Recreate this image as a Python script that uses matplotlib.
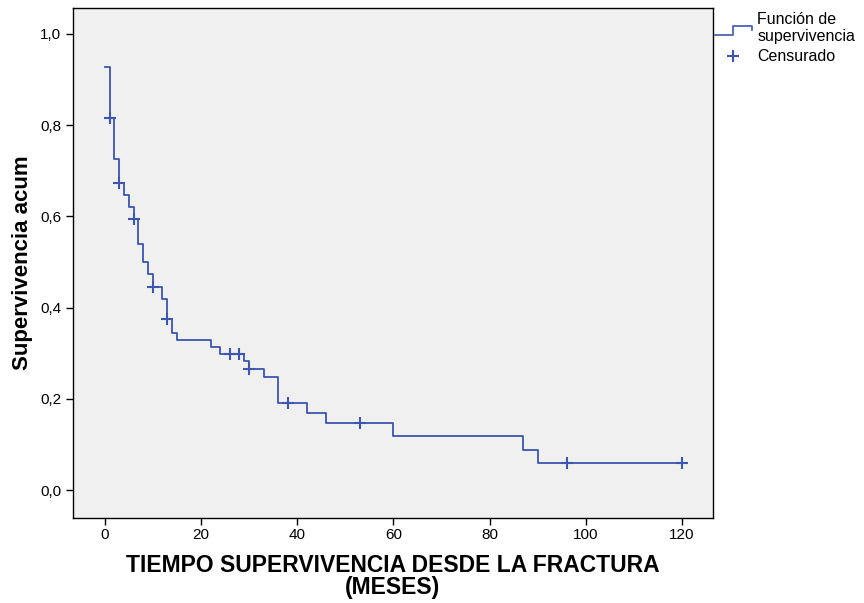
import numpy as np
import matplotlib
matplotlib.use("Agg")
import matplotlib.pyplot as plt
from matplotlib.lines import Line2D
from matplotlib.legend_handler import HandlerLine2D

plt.rcParams['font.family'] = ['Liberation Sans', 'DejaVu Sans']

# Curva de Kaplan-Meier (tiempos en meses, supervivencia acumulada)
tiempos = [0, 1, 2, 3, 4, 5, 6, 7, 8, 9, 10, 12, 13, 14, 15, 22, 24, 29, 30,
           33, 36, 42, 46, 60, 87, 90, 120]
superv = [0.928, 0.816, 0.726, 0.674, 0.647, 0.621, 0.595, 0.540, 0.500,
          0.473, 0.446, 0.418, 0.374, 0.344, 0.329, 0.314, 0.299, 0.283,
          0.266, 0.247, 0.190, 0.169, 0.148, 0.118, 0.088, 0.060, 0.060]

# Casos censurados
t_cens = [1, 3, 6, 10, 13, 26, 28, 30, 38, 53, 96, 120]

x_ticks = [0, 20, 40, 60, 80, 100, 120]
y_ticks = [0.0, 0.2, 0.4, 0.6, 0.8, 1.0]

color = '#3c56b0'

# valor de la curva en cada tiempo censurado
idx = np.searchsorted(tiempos, t_cens, side='right') - 1
s_cens = np.array(superv)[idx]


class HandlerStep(HandlerLine2D):
    # icono escalonado como en SPSS
    def create_artists(self, legend, orig_handle, xdescent, ydescent,
                       width, height, fontsize, trans):
        x0 = -xdescent
        xs = [x0, x0 + width * 0.48, x0 + width * 0.48, x0 + width, x0 + width]
        ys = [-height * 0.05, -height * 0.05, height * 0.75, height * 0.75, height * 0.35]
        ln = Line2D(xs, ys, color=orig_handle.get_color(), lw=1.2)
        ln.set_transform(trans)
        return [ln]


fig = plt.figure(figsize=(8.64, 6.03), dpi=100)
ax = fig.add_axes([0.0845, 0.141, 0.7405, 0.846])
ax.set_facecolor('#f0f0f0')

linea, = ax.step(tiempos, superv, where='post', color=color, lw=1.3)
cens, = ax.plot(t_cens, s_cens, linestyle='none', marker='+', color=color,
                markersize=8, markeredgewidth=1.5)

ax.set_xlim(-6.6, 126.4)
ax.set_ylim(-0.061, 1.057)
ax.set_xticks(x_ticks)
ax.set_xticklabels([str(v) for v in x_ticks])
ax.set_yticks(y_ticks)
ax.set_yticklabels([f'{v:.1f}'.replace('.', ',') for v in y_ticks])
ax.tick_params(direction='out', length=5, width=1, labelsize=11, colors='black')
ax.tick_params(axis='x', pad=2.5)

for s in ax.spines.values():
    s.set_color('black')
    s.set_linewidth(1.0)

ax.set_xlabel('TIEMPO SUPERVIVENCIA DESDE LA FRACTURA\n(MESES)',
              fontsize=16.5, fontweight='bold', labelpad=8, linespacing=0.95)
ax.set_ylabel('Supervivencia acum', fontsize=16, fontweight='bold', labelpad=5)

fig.legend([linea, cens], ['Función de\nsupervivencia', 'Censurado'],
           loc='upper left', bbox_to_anchor=(0.811, 1.004), frameon=False,
           fontsize=11.5, handlelength=2.3, handletextpad=0.35,
           labelspacing=0.3, handler_map={linea: HandlerStep()})

fig.savefig('out.png', dpi=100)
